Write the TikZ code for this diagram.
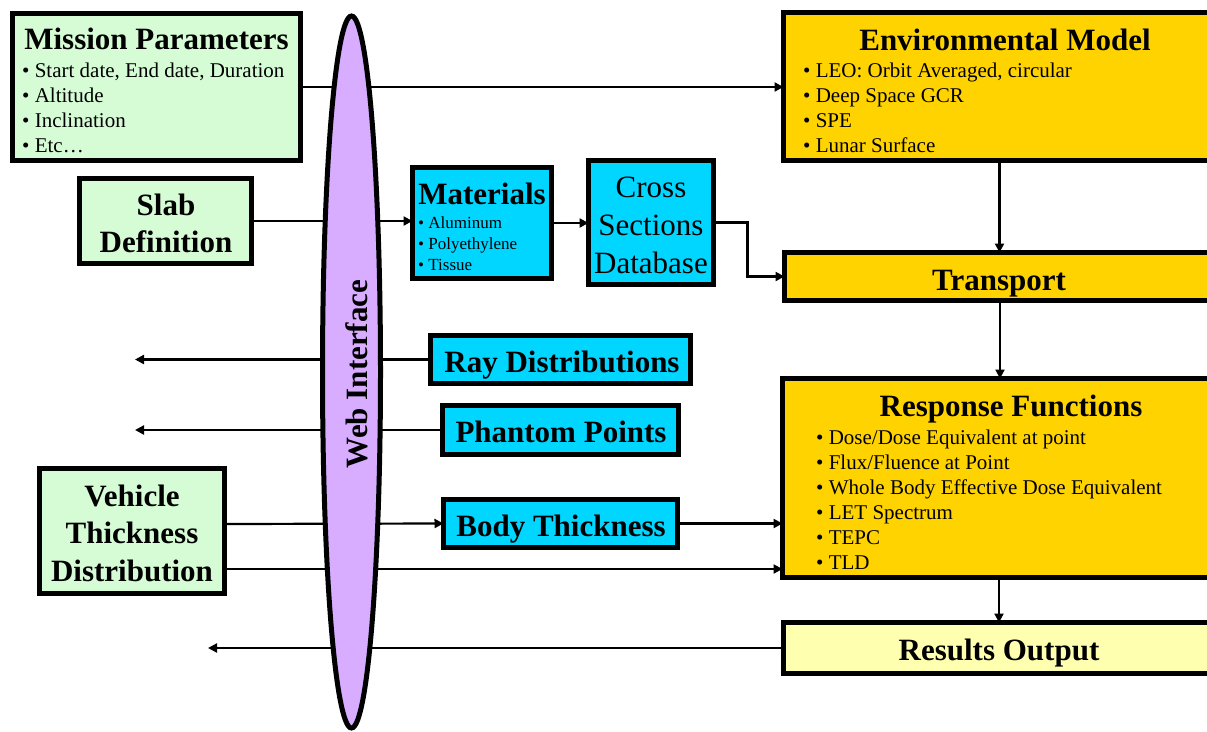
\documentclass[tikz,border=0pt]{standalone}
\usepackage{fontspec}
\setmainfont{Liberation Serif}
\usepackage{tikz}
\usetikzlibrary{shapes.geometric, arrows.meta, positioning}
\definecolor{mintgreen}{RGB}{214,252,214}
\definecolor{skyblue}{RGB}{0,214,255}
\definecolor{gold}{RGB}{255,211,0}
\definecolor{lavender}{RGB}{216,172,255}
\definecolor{paleyellow}{RGB}{255,255,176}
\newcommand{\bigtext}{\fontsize{31}{37}\selectfont}
\newcommand{\listtext}{\fontsize{21}{25}\selectfont}
\newcommand{\smalllist}{\fontsize{17}{21}\selectfont}

\begin{document}
\begin{tikzpicture}[
    x=1pt, y=-1pt,
    box/.style={draw, line width=5pt, outer sep=0pt, inner sep=0pt, anchor=north west},
    inputbox/.style={box, fill=mintgreen},
    toolbox/.style={box, fill=skyblue},
    modelbox/.style={box, fill=gold},
    outbox/.style={box, fill=paleyellow},
    title/.style={inner sep=0pt, anchor=base, font=\bigtext\bfseries, align=center},
    plain/.style={inner sep=0pt, anchor=base, font=\bigtext, align=center},
    items/.style={inner sep=0pt, anchor=base west, font=\listtext, align=left},
    arrow/.style={-{Triangle[length=9pt, width=9pt]}, line width=2.2pt},
    link/.style={line width=2.2pt}
]
\useasboundingbox (0,0) rectangle (1207,731);

% boxes
\node[inputbox, minimum width=288, minimum height=147] (mission) at (12.5,13.5) {};
\node[inputbox, minimum width=172, minimum height=85] (slab) at (79.5,178.5) {};
\node[inputbox, minimum width=185, minimum height=125] (vehicle) at (39.5,468.5) {};
\node[toolbox, minimum width=139, minimum height=111] (materials) at (412.5,167.5) {};
\node[toolbox, minimum width=125, minimum height=124] (cross) at (588.5,160.5) {};
\node[toolbox, minimum width=260, minimum height=48] (ray) at (430.5,335.5) {};
\node[toolbox, minimum width=236, minimum height=49] (phantom) at (442.5,405.5) {};
\node[toolbox, minimum width=234, minimum height=48] (body) at (443.5,499.5) {};
\node[modelbox, minimum width=432, minimum height=148] (env) at (783.5,12.5) {};
\node[modelbox, minimum width=431, minimum height=48] (transport) at (784.5,252.5) {};
\node[modelbox, minimum width=433, minimum height=199] (response) at (782.5,378.5) {};
\node[outbox, minimum width=432, minimum height=51] (results) at (783.5,622.5) {};

% texts (multi-line nodes sit on their last baseline)
\node[title] (missiontitle) at (156.5,49) {Mission Parameters};
\node[items] (missionlist) at (22,152) {• Start date, End date, Duration\\• Altitude\\• Inclination\\• Etc…};
\node[title] (slabtext) at (166,252) {Slab\\Definition};
\node[title, font=\fontsize{31}{37.5}\selectfont\bfseries] (vehicletext) at (132,581) {Vehicle\\Thickness\\Distribution};
\node[title] (mattitle) at (482,204) {Materials};
\node[items, font=\smalllist] (matlist) at (418,270) {• Aluminum\\• Polyethylene\\• Tissue};
\node[plain, font=\fontsize{31}{38}\selectfont] (crosstext) at (651,273) {Cross\\Sections\\Database};
\node[title] (raytext) at (562,372) {Ray Distributions};
\node[title] (phantomtext) at (561,442) {Phantom Points};
\node[title] (bodytext) at (561,536) {Body Thickness};
\node[title] (envtitle) at (1005,50) {Environmental Model};
\node[items] (envlist) at (803,152) {• LEO: Orbit Averaged, circular\\• Deep Space GCR\\• SPE\\• Lunar Surface};
\node[title] (transporttext) at (999,290) {Transport};
\node[title] (resptitle) at (1011,416) {Response Functions};
\node[items] (resplist) at (816,569) {• Dose/Dose Equivalent at point\\• Flux/Fluence at Point\\• Whole Body Effective Dose Equivalent\\• LET Spectrum\\• TEPC\\• TLD};
\node[title] (resultstext) at (999,660) {Results Output};

% connectors
\coordinate (rayend) at (135,359.5);
\coordinate (phantomend) at (135,430);
\coordinate (resultsend) at (208,648);
\coordinate (vehhigh) at ([yshift=7pt]vehicle.east);
\coordinate (vehlow) at ([yshift=-38pt]vehicle.east);

\draw[arrow] (mission.east) -- (mission.east -| env.west);
\draw[arrow] (slab.east) -- (slab.east -| materials.west);
\draw[arrow] (materials.east) -- (materials.east -| cross.west);
\draw[arrow] (cross.east) -- ++(34,0) |- (transport.west);
\draw[arrow] (env.south) -- (env.south |- transport.north);
\draw[arrow] (transport.south) -- (transport.south |- response.north);
\draw[arrow] (response.south) -- (response.south |- results.north);
\draw[arrow] (ray.west) -- (rayend);
\draw[arrow] (phantom.west) -- (phantomend);
\draw[arrow] (vehhigh) -- (body.west);
\draw[arrow] (body.east) -- (body.east -| response.west);
\draw[arrow] (vehlow) -- (vehlow -| response.west);
\draw[arrow] (results.west) -- (resultsend);

% web interface on top
\node[draw, ellipse, line width=5pt, fill=lavender, minimum width=58, minimum height=712, inner sep=0pt, outer sep=0pt] (web) at (351.5,372) {};
\node[title, rotate=90] (webtext) at (367,374) {Web Interface};
\end{tikzpicture}
\end{document}
